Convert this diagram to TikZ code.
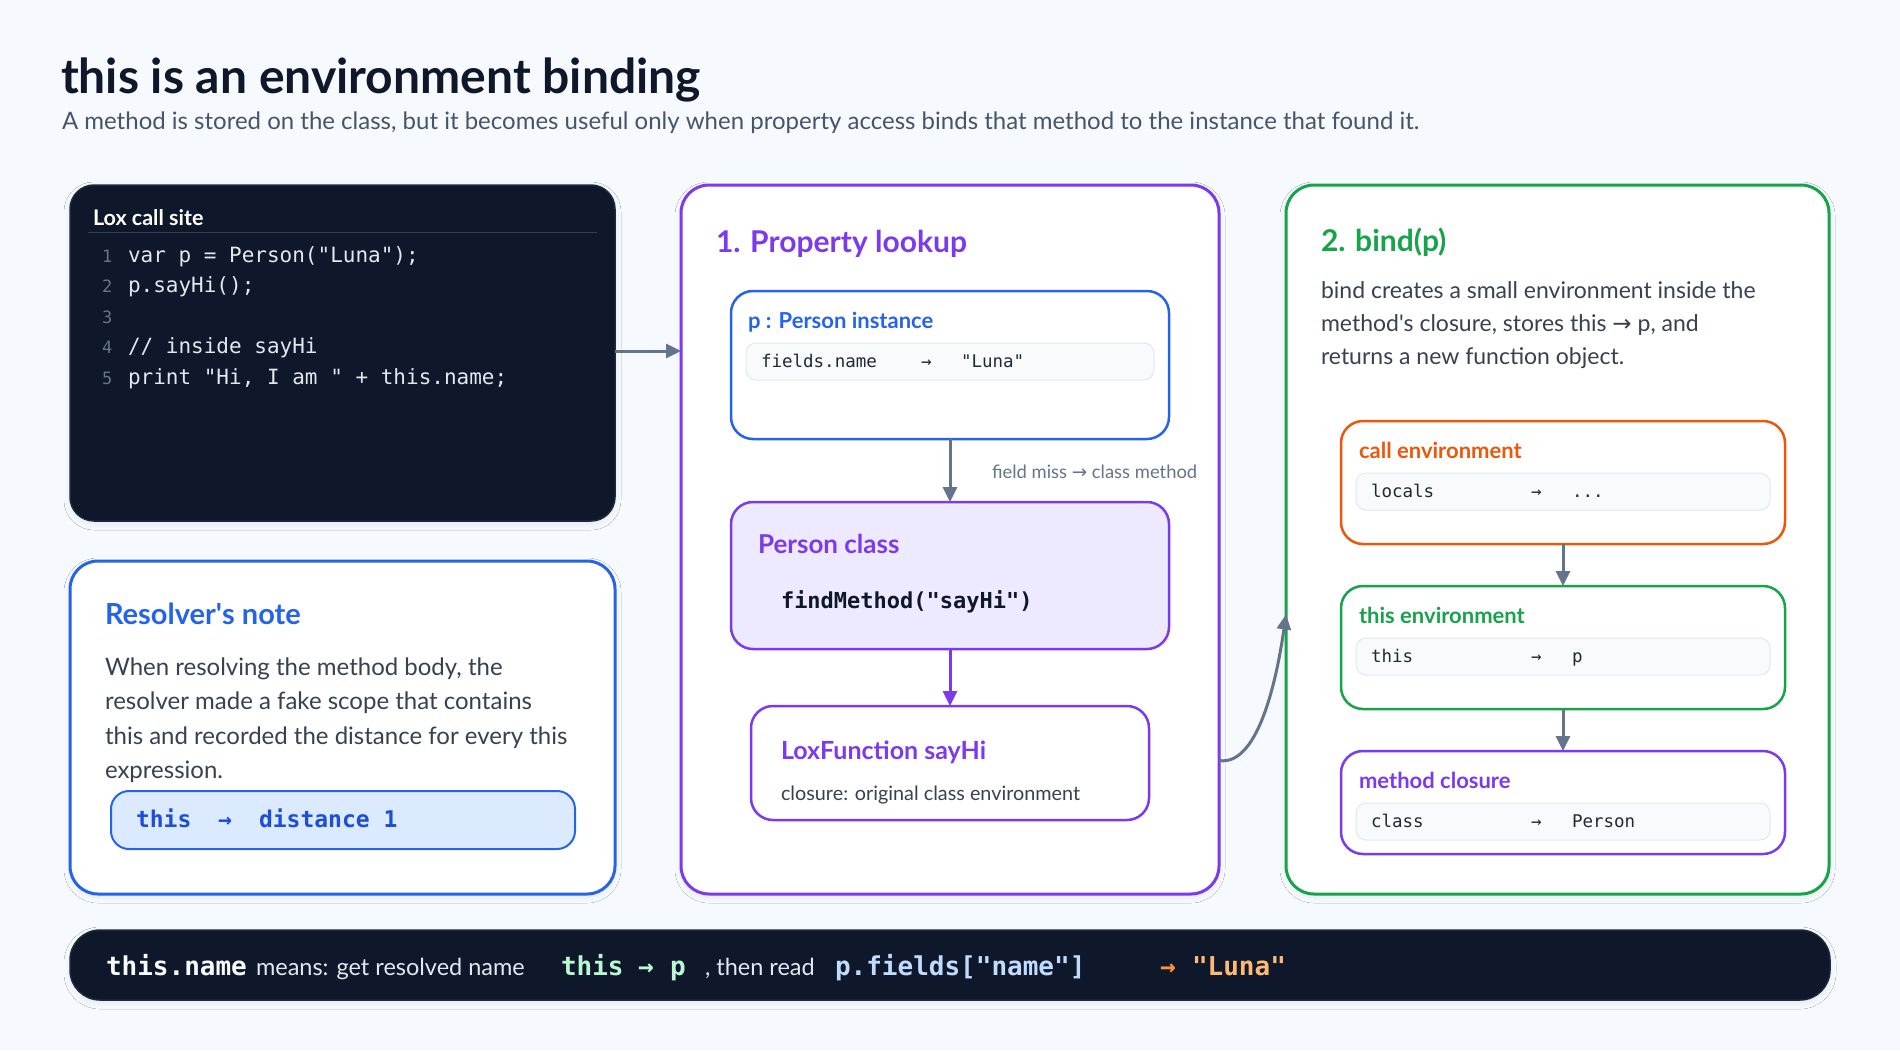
\documentclass[tikz,border=0pt]{standalone}
\usepackage{fontspec}
\setmainfont{Lato}
\newfontfamily\monof{DejaVu Sans Mono}
\newfontfamily\arrowf{DejaVu Sans}
\usetikzlibrary{arrows.meta,shadows.blur}
\definecolor{bg}{HTML}{F6F9FE}
\definecolor{ink}{HTML}{0F172A}
\definecolor{subc}{HTML}{475569}
\definecolor{body}{HTML}{374151}
\definecolor{darkc}{HTML}{0F172A}
\definecolor{darkline}{HTML}{1E293B}
\definecolor{sepc}{HTML}{334155}
\definecolor{codec}{HTML}{E2E8F0}
\definecolor{lnum}{HTML}{64748B}
\definecolor{slate}{HTML}{64748B}
\definecolor{blu}{HTML}{2563EB}
\definecolor{bluetext}{HTML}{1D4ED8}
\definecolor{pur}{HTML}{7C3AED}
\definecolor{grn}{HTML}{16A34A}
\definecolor{orn}{HTML}{EA580C}
\definecolor{lpur}{HTML}{EDE9FE}
\definecolor{lblu}{HTML}{DBEAFE}
\definecolor{rowfill}{HTML}{F8FAFC}
\definecolor{rowline}{HTML}{E2E8F0}
\definecolor{rowtext}{HTML}{1F2937}
\definecolor{barwhite}{HTML}{F8FAFC}
\definecolor{bargreen}{HTML}{BBF7D0}
\definecolor{barblue}{HTML}{BFDBFE}
\definecolor{barorn}{HTML}{FB923C}
\definecolor{barluna}{HTML}{FDBA74}
\newcommand\fsz[1]{\fontsize{#1}{#1}\selectfont}
\newcommand\apo{\textquotesingle}
\begin{document}
\begin{tikzpicture}[x=1pt,y=-1pt,
  txt/.style={anchor=base west,inner sep=0pt,outer sep=0pt},
  boxbase/.style={anchor=north west,inner sep=0pt,outer sep=0pt},
  softshadow/.style={blur shadow={shadow xshift=0pt,shadow yshift=-3pt,shadow blur radius=6pt,shadow opacity=7}},
  panel/.style={boxbase,fill=white,line width=3pt,rounded corners=28pt,softshadow},
  darkpanel/.style={boxbase,fill=darkc,draw=darkline,line width=1.5pt,rounded corners=24pt,softshadow},
  inbox/.style={boxbase,fill=white,line width=2.5pt,rounded corners=22pt},
  rowbox/.style={boxbase,fill=rowfill,draw=rowline,line width=1pt,rounded corners=10pt},
  rowtxt/.style={txt,text=rowtext,font=\monof\fsz{17.5}},
  conn/.style={draw=slate,line width=3pt,-{Triangle[length=15pt,width=14pt]}},
  pconn/.style={draw=pur,line width=3pt,-{Triangle[length=15pt,width=14pt]}},
  codetxt/.style={txt,text=codec,font=\monof\fsz{21}},
  lntxt/.style={txt,text=lnum,font=\monof\fsz{17}},
  bodytxt/.style={txt,text=body,font=\fsz{24}},
  bindtxt/.style={txt,text=body,font=\fsz{23}},
  envlabel/.style={txt,font=\bfseries\fsz{22}},
  bartxt/.style={txt,text=codec,font=\fsz{23.5}},
  barmono/.style={txt,font=\monof\bfseries\fsz{26}}
]
\fill[bg] (0,0) rectangle (1900,1050);
\useasboundingbox (0,0) rectangle (1900,1050);

% title
\node[txt,text=ink] (title) at (61,93) {\fsz{48}\bfseries this is an environment binding};
\node[txt,text=subc] (subt) at (62,129) {\fsz{24}A method is stored on the class, but it becomes useful only when property access binds that method to the instance that found it.};

% code panel
\node[darkpanel,minimum width=545pt,minimum height=336pt] (code) at (70,185) {};
\node[txt,text=white] (codehead) at (93,225) {\fsz{21.5}\bfseries Lox call site};
\draw[sepc,line width=1pt] (88,232) -- (597,232);
\node[lntxt] (ln1) at (102,262) {1};
\node[lntxt] (ln2) at (102,292.5) {2};
\node[lntxt] (ln3) at (102,323) {3};
\node[lntxt] (ln4) at (102,353.5) {4};
\node[lntxt] (ln5) at (102,384) {5};
\node[codetxt] (c1) at (128,262) {var p = Person("Luna");};
\node[codetxt] (c2) at (128,292.5) {p.sayHi();};
\node[codetxt] (c4) at (128,353.5) {// inside sayHi};
\node[codetxt] (c5) at (128,384) {print "Hi, I am " + this.name;};

% resolver note
\node[panel,draw=blu,minimum width=545pt,minimum height=333pt] (note) at (70,561) {};
\node[txt,text=blu] (notetitle) at (105,624) {\fsz{29}\bfseries Resolver\apo s note};
\node[bodytxt] (nb1) at (105,675) {When resolving the method body, the};
\node[bodytxt] (nb2) at (105,709.5) {resolver made a fake scope that contains};
\node[bodytxt] (nb3) at (105,744) {this and recorded the distance for every this};
\node[bodytxt] (nb4) at (105,778) {expression.};
\node[boxbase,fill=lblu,draw=blu,line width=2pt,rounded corners=18pt,minimum width=464pt,minimum height=58pt] (pill) at (111,791) {};
\node[txt,text=bluetext,font=\monof\bfseries\fsz{23}] (pt1) at (136,827) {this};
\node[txt,text=bluetext,font=\monof\bfseries\fsz{23}] (pt2) at (218,827) {→};
\node[txt,text=bluetext,font=\monof\bfseries\fsz{23}] (pt3) at (259,827) {distance 1};

% property lookup
\node[panel,draw=pur,minimum width=538pt,minimum height=709pt] (lookup) at (681,185) {};
\node[txt,text=pur] (lktitle) at (716,252) {\fsz{30}\bfseries 1. Property lookup};
\node[inbox,draw=blu,minimum width=438pt,minimum height=148pt] (inst) at (731,291) {};
\node[txt,text=blu] (instlabel) at (748,328) {\fsz{22}\bfseries p : Person instance};
\node[rowbox,minimum width=408pt,minimum height=37pt] (instrow) at (746,343) {};
\node[rowtxt] (ir1) at (761,367) {fields.name};
\node[rowtxt] (ir2) at (921,367) {→};
\node[rowtxt] (ir3) at (961,367) {"Luna"};
\node[inbox,fill=lpur,draw=pur,minimum width=438pt,minimum height=147pt] (pclass) at (731,502) {};
\node[txt,text=pur] (pclabel) at (758,553) {\fsz{26}\bfseries Person class};
\node[txt,text=ink,font=\monof\bfseries\fsz{22}] (findm) at (781,608) {findMethod("sayHi")};
\node[inbox,draw=pur,minimum width=398pt,minimum height=114pt] (loxf) at (751,706) {};
\node[txt,text=pur] (lflabel) at (781,759) {\fsz{25}\bfseries LoxFunction sayHi};
\node[txt,text=body] (lfbody) at (781,800) {\fsz{19.8}closure: original class environment};
\draw[conn] (inst) -- (pclass);
\node[txt,text=slate] (misslabel) at (992,478) {\fsz{18.4}field miss {\arrowf →} class method};
\draw[pconn] (pclass) -- (loxf);

% bind panel
\node[panel,draw=grn,minimum width=543pt,minimum height=709pt] (bind) at (1286,185) {};
\node[txt,text=grn] (bdtitle) at (1321,251) {\fsz{30}\bfseries 2. bind(p)};
\node[bindtxt] (bb1) at (1321,298) {bind creates a small environment inside the};
\node[bindtxt] (bb2) at (1321,331) {method\apo s closure, stores this {\arrowf →} p, and};
\node[bindtxt] (bb3) at (1321,364) {returns a new function object.};

\node[inbox,draw=orn,minimum width=444pt,minimum height=123pt] (callenv) at (1341,421) {};
\node[envlabel,text=orn] (celabel) at (1359,458) {call environment};
\node[rowbox,minimum width=414pt,minimum height=37pt] (callrow) at (1356,473) {};
\node[rowtxt] (cr1) at (1371,497.5) {locals};
\node[rowtxt] (cr2) at (1531,497.5) {→};
\node[rowtxt] (cr3) at (1572,497.5) {...};

\node[inbox,draw=grn,minimum width=444pt,minimum height=123pt] (thisenv) at (1341,586) {};
\node[envlabel,text=grn] (telabel) at (1359,623) {this environment};
\node[rowbox,minimum width=414pt,minimum height=37pt] (thisrow) at (1356,638) {};
\node[rowtxt] (tr1) at (1371,662.5) {this};
\node[rowtxt] (tr2) at (1531,662.5) {→};
\node[rowtxt] (tr3) at (1572,662.5) {p};

\node[inbox,draw=pur,minimum width=444pt,minimum height=103pt] (mclos) at (1341,751) {};
\node[envlabel,text=pur] (mclabel) at (1359,788) {method closure};
\node[rowbox,minimum width=414pt,minimum height=37pt] (mrow) at (1356,803) {};
\node[rowtxt] (mr1) at (1371,827.5) {class};
\node[rowtxt] (mr2) at (1531,827.5) {→};
\node[rowtxt] (mr3) at (1572,827.5) {Person};

\draw[conn] (callenv) -- (thisenv);
\draw[conn] (thisenv) -- (mclos);

% connectors between panels
\draw[conn] ([yshift=2pt]code.east) -- ([yshift=2pt]code.east -| lookup.west);
\draw[conn] ([yshift=-221pt]lookup.east) .. controls +(38,6) and +(-10,70) .. ([yshift=-75pt]bind.west);

% bottom bar
\node[boxbase,fill=darkc,draw=darkline,line width=1.5pt,rounded corners=30pt,minimum width=1760pt,minimum height=70pt,softshadow] (bar) at (70,930) {};
\node[barmono,text=barwhite] (b1) at (106,975) {this.name};
\node[bartxt] (b2) at (256,975) {means: get resolved name};
\node[barmono,text=bargreen] (b3) at (561,975) {this};
\node[barmono,text=bargreen] (b4) at (638,975) {→};
\node[barmono,text=bargreen] (b5) at (670,975) {p};
\node[bartxt] (b6) at (705,975) {, then read};
\node[barmono,text=barblue] (b7) at (835,975) {p.fields["name"]};
\node[barmono,text=barorn] (b8) at (1160,975) {→};
\node[barmono,text=barluna] (b9) at (1192,975) {"Luna"};
\end{tikzpicture}
\end{document}
